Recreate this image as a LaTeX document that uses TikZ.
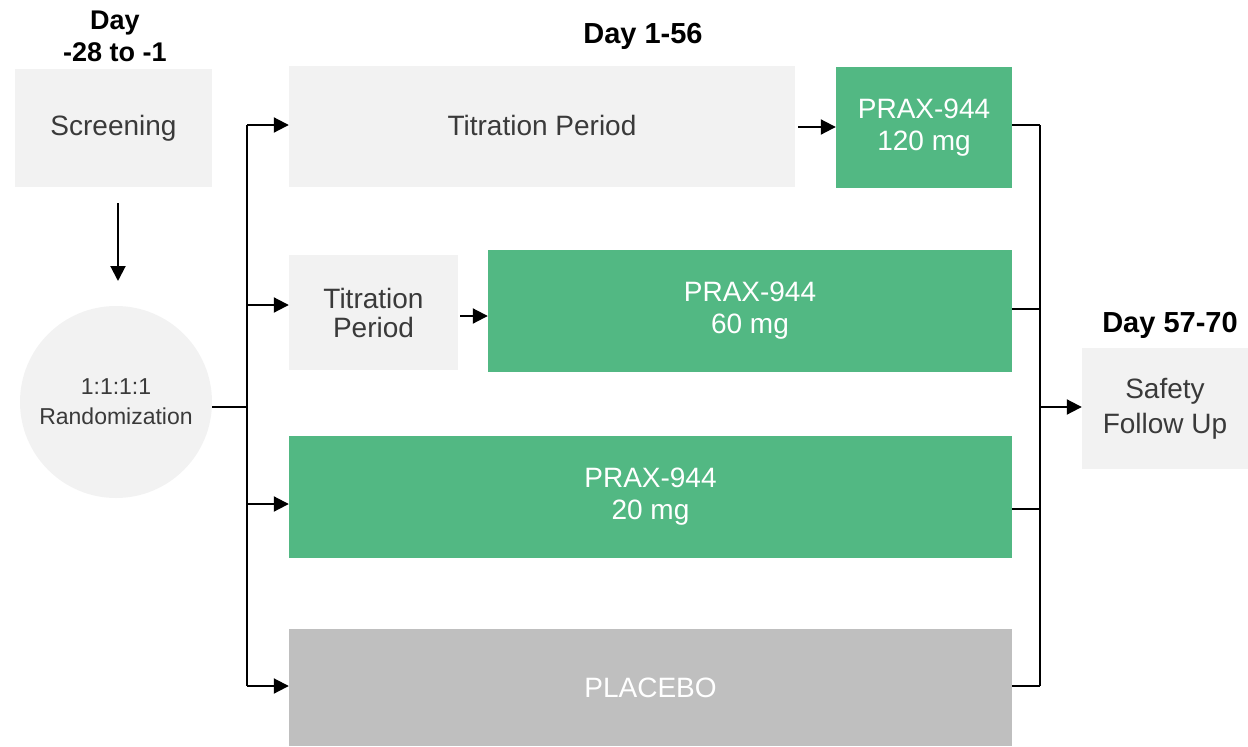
\documentclass[tikz,border=0pt]{standalone}
\usepackage{fontspec}
\setmainfont{Liberation Sans}
\usetikzlibrary{arrows.meta}
\definecolor{lightbox}{HTML}{F2F2F2}
\definecolor{greenbox}{HTML}{52B883}
\definecolor{placebobox}{HTML}{BFBFBF}
\definecolor{bodytext}{HTML}{3A3A3A}
\tikzset{
  box/.style={rectangle, inner sep=0pt, fill=lightbox, text=bodytext, align=center, font=\fontsize{28}{32}\selectfont},
  gbox/.style={box, fill=greenbox, text=white},
  pbox/.style={box, fill=placebobox, text=white},
  head/.style={font=\fontsize{29}{32}\selectfont\bfseries, text=black, align=center, inner sep=0pt},
  arr/.style={line width=2pt, -{Triangle[length=15pt,width=15pt]}},
  ln/.style={line width=2pt},
}
\begin{document}
\begin{tikzpicture}[x=1pt,y=-1pt]
\useasboundingbox (0,0) rectangle (1248,747);
% headings
\node[head, font=\fontsize{27}{32}\selectfont\bfseries] (h1) at (115,36) {Day\\-28 to -1};
\node[head] (h2) at (643,36) {Day 1-56};
\node[head] (h3) at (1170,325) {Day 57-70};
% boxes
\node[box, minimum width=197pt, minimum height=118pt] (scr) at (113.5,128) {\raisebox{-3pt}{Screening}};
\node[circle, fill=lightbox, minimum size=192pt, inner sep=0pt, text=bodytext, align=center, font=\fontsize{23}{30}\selectfont] (rand) at (116,402) {1:1:1:1\\Randomization};
\node[box, minimum width=506pt, minimum height=121pt] (t1) at (542,126.5) {\raisebox{2pt}{Titration Period}};
\node[gbox, minimum width=176pt, minimum height=121pt] (p120) at (924,127.5) {PRAX-944\\120 mg};
\node[box, minimum width=169pt, minimum height=115pt, font=\fontsize{28}{29}\selectfont] (t2) at (373.5,312.5) {Titration\\Period};
\node[gbox, minimum width=524pt, minimum height=122pt] (p60) at (750,311) {PRAX-944\\60 mg};
\node[gbox, minimum width=723pt, minimum height=122pt] (p20) at (650.5,497) {PRAX-944\\20 mg};
\node[pbox, minimum width=723pt, minimum height=117pt] (plc) at (650.5,687.5) {PLACEBO};
\node[box, minimum width=166pt, minimum height=121pt, font=\fontsize{28}{35}\selectfont] (saf) at (1165,408.5) {Safety\\Follow Up};
% left connectors
\coordinate (ja) at (247,125);
\coordinate (jb) at (247,305);
\coordinate (jc) at (247,504);
\coordinate (jd) at (247,686);
\coordinate (jm) at (247,407);
\draw[arr] (118,203) -- (118,281);
\draw[ln] (rand.east |- jm) -- (jm);
\draw[ln] (ja) -- (jd);
\draw[arr] (ja) -- (t1.west |- ja);
\draw[arr] (jb) -- (t2.west |- jb);
\draw[arr] (jc) -- (p20.west |- jc);
\draw[arr] (jd) -- (plc.west |- jd);
% inner arrows
\draw[arr, shorten <=3pt] (t1.east |- 0,127) -- (p120.west |- 0,127);
\draw[arr, shorten <=2pt] (t2.east |- 0,316) -- (p60.west |- 0,316);
% right connectors
\coordinate (ka) at (1040,125);
\coordinate (kb) at (1040,309);
\coordinate (kc) at (1040,509);
\coordinate (kd) at (1040,686);
\coordinate (km) at (1040,407);
\draw[ln] (p120.east |- ka) -- (ka);
\draw[ln] (p60.east |- kb) -- (kb);
\draw[ln] (p20.east |- kc) -- (kc);
\draw[ln] (plc.east |- kd) -- (kd);
\draw[ln] (ka) -- (kd);
\draw[arr] (km) -- (saf.west |- km);
\end{tikzpicture}
\end{document}
